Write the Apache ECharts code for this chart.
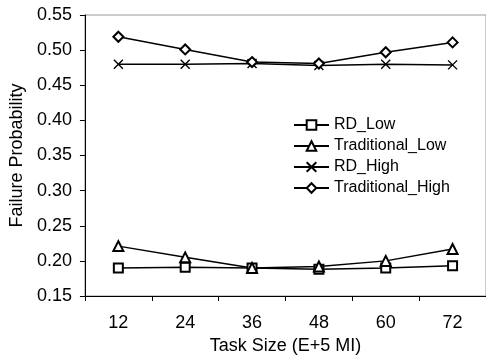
<!DOCTYPE html>
<html><head><meta charset="utf-8">
<script src="https://cdn.jsdelivr.net/npm/echarts@6/dist/echarts.min.js"></script>
<style>html,body{margin:0;padding:0;background:#fff}#c{width:486px;height:360px}</style>
</head><body><div id="c"></div>
<script>
const categories = ['12', '24', '36', '48', '60', '72'];
const rdLow = [0.190, 0.191, 0.190, 0.188, 0.190, 0.193];
const tradLow = [0.221, 0.205, 0.190, 0.192, 0.200, 0.217];
const rdHigh = [0.480, 0.480, 0.481, 0.478, 0.480, 0.479];
const tradHigh = [0.519, 0.501, 0.483, 0.481, 0.497, 0.511];
const seriesNames = ['RD_Low', 'Traditional_Low', 'RD_High', 'Traditional_High'];

const FONT = 'Liberation Sans, Arial, sans-serif';
const crossPath = 'path://M0,0L10,10M10,0L0,10';
function mk(name, data, symbol, size) {
  const isCross = symbol === crossPath;
  return {
    name, type: 'line', data, symbol, symbolSize: size,
    lineStyle: { color: '#000', width: 1.5 },
    itemStyle: isCross ? { color: 'none', borderColor: '#000', borderWidth: 1.4 } : { color: '#000', borderWidth: 1.3 },
    emphasis: { disabled: true }, animation: false
  };
}
const chart = echarts.init(document.getElementById('c'), null, { renderer: 'canvas' });
chart.setOption({
  animation: false,
  backgroundColor: '#fff',
  textStyle: { fontFamily: FONT },
  grid: { left: 83, top: 15, right: -3, bottom: 64, show: true, borderColor: '#999', borderWidth: 1, containLabel: false },
  legend: {
    data: seriesNames.map(n => ({ name: n })),
    orient: 'vertical', left: 293, top: 117, padding: 0,
    itemWidth: 35, itemHeight: 12, itemGap: 5,
    textStyle: { fontFamily: FONT, fontSize: 16, color: '#000', lineHeight: 16 }
  },
  xAxis: {
    type: 'category', data: categories, boundaryGap: true,
    name: 'Task Size (E+5 MI)', nameLocation: 'middle', nameGap: 41,
    nameTextStyle: { fontFamily: FONT, fontSize: 18, color: '#000' },
    axisLine: { lineStyle: { color: '#000', width: 1 } },
    axisTick: { show: true, inside: false, length: 5, lineStyle: { color: '#000' } },
    axisLabel: { fontFamily: FONT, fontSize: 18, color: '#000', margin: 18 },
    splitLine: { show: false }
  },
  yAxis: {
    type: 'value', min: 0.15, max: 0.55, interval: 0.05,
    name: 'Failure Probability', nameLocation: 'middle', nameGap: 56,
    nameTextStyle: { fontFamily: FONT, fontSize: 18, color: '#000' },
    axisLine: { show: true, lineStyle: { color: '#000', width: 1 } },
    axisTick: { show: true, inside: false, length: 5, lineStyle: { color: '#000' } },
    axisLabel: { fontFamily: FONT, fontSize: 18, color: '#000', margin: 13, formatter: v => v.toFixed(2) },
    splitLine: { show: false }
  },
  series: [
    mk('RD_Low', rdLow, 'emptyRect', 9),
    mk('Traditional_Low', tradLow, 'emptyTriangle', 10),
    mk('RD_High', rdHigh, crossPath, 9),
    mk('Traditional_High', tradHigh, 'emptyDiamond', 10)
  ]
});
</script></body></html>
